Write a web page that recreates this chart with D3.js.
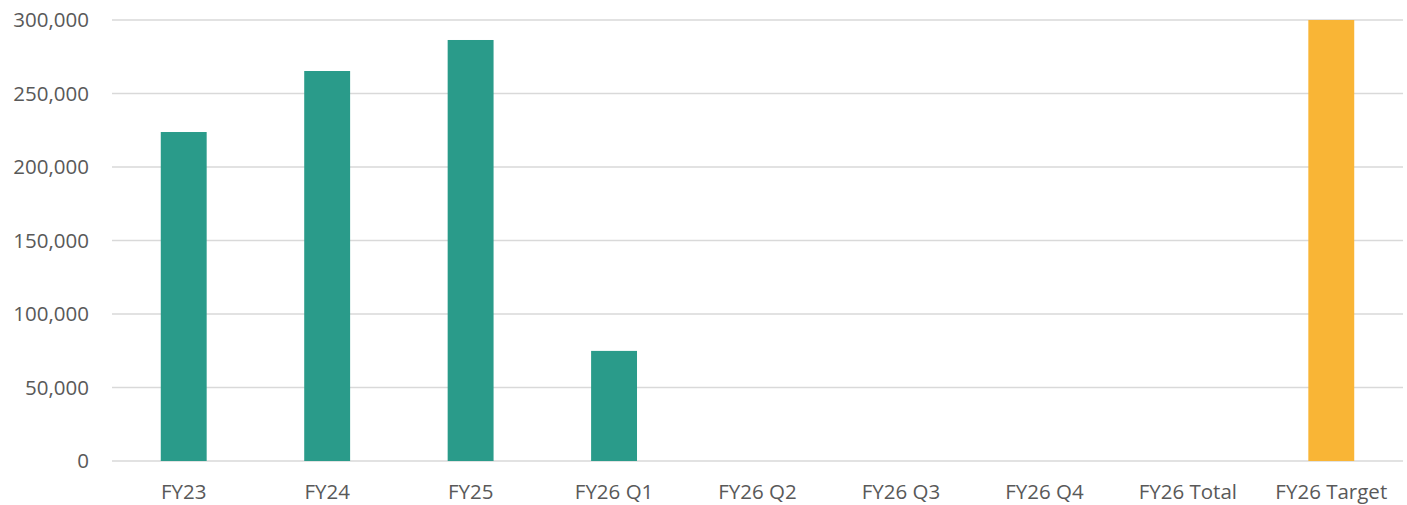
<!DOCTYPE html>
<html>
<head>
<meta charset="utf-8">
<script src="https://cdn.jsdelivr.net/npm/d3@7"></script>
<style>
  body { margin: 0; background: #fff; overflow: hidden; }
  svg { display: block; }
  text { font-family: "Open Sans", sans-serif; fill: #595959; }
</style>
</head>
<body>
<svg width="1407" height="505"></svg>
<script>
const categories = ['FY23', 'FY24', 'FY25', 'FY26 Q1', 'FY26 Q2', 'FY26 Q3', 'FY26 Q4', 'FY26 Total', 'FY26 Target'];
const values = [223800, 265300, 286400, 74900, 0, 0, 0, 0, 300000];
const barColors = ['#2a9b8a', '#2a9b8a', '#2a9b8a', '#2a9b8a', '#2a9b8a', '#2a9b8a', '#2a9b8a', '#2a9b8a', '#f9b536'];
const yTicks = [0, 50000, 100000, 150000, 200000, 250000, 300000];

const margin = { left: 112, right: 4, top: 20, bottom: 44 };
const svg = d3.select('svg');
const width = +svg.attr('width');
const height = +svg.attr('height');
const innerWidth = width - margin.left - margin.right;
const innerHeight = height - margin.top - margin.bottom;

const g = svg.append('g')
    .attr('transform', `translate(${margin.left},${margin.top})`);

const xScale = d3.scaleBand()
    .domain(categories)
    .range([0, innerWidth])
    .paddingInner(0.68)
    .paddingOuter(0.34);

const yScale = d3.scaleLinear()
    .domain([0, 300000])
    .range([innerHeight, 0]);

// gridlines
g.selectAll('.grid')
  .data(yTicks)
  .enter().append('line')
    .attr('x1', 0)
    .attr('x2', innerWidth)
    .attr('y1', d => yScale(d))
    .attr('y2', d => yScale(d))
    .attr('stroke', '#d9d9d9')
    .attr('stroke-width', 1.5);

// y labels
const yAxis = d3.axisLeft(yScale)
    .tickValues(yTicks)
    .tickFormat(d3.format(','))
    .tickSize(0)
    .tickPadding(23);
const yAxisG = g.append('g').call(yAxis);
yAxisG.select('.domain').remove();
yAxisG.selectAll('text')
    .attr('font-size', 20.5)
    .attr('font-family', '"Open Sans", sans-serif')
    .attr('fill', '#595959');

// bars
g.selectAll('.bar')
  .data(values)
  .enter().append('rect')
    .attr('x', (d, i) => xScale(categories[i]))
    .attr('y', d => yScale(d))
    .attr('width', xScale.bandwidth())
    .attr('height', d => innerHeight - yScale(d))
    .attr('fill', (d, i) => barColors[i]);

// x labels
const xAxis = d3.axisBottom(xScale)
    .tickSize(0)
    .tickPadding(23);
const xAxisG = g.append('g')
    .attr('transform', `translate(0,${innerHeight})`)
    .call(xAxis);
xAxisG.select('.domain').remove();
xAxisG.selectAll('text')
    .attr('font-size', 20.5)
    .attr('font-family', '"Open Sans", sans-serif')
    .attr('fill', '#595959');
</script>
</body>
</html>
